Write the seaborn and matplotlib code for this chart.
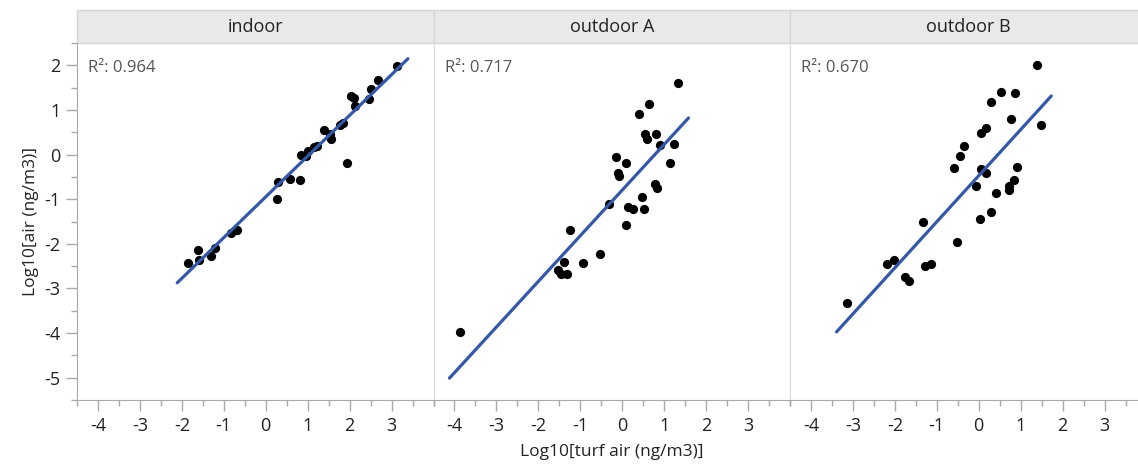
import numpy as np
import pandas as pd
import matplotlib
matplotlib.use("Agg")
import matplotlib.pyplot as plt
import seaborn as sns
from matplotlib.patches import Rectangle
from matplotlib.ticker import FixedLocator, MultipleLocator

# panels
sites = ["indoor", "outdoor A", "outdoor B"]
r2_values = [0.964, 0.717, 0.670]

# indoor
indoor_x = [-1.86, -1.62, -1.58, -1.30, -1.20, -0.82, -0.69, 0.28, 0.30, 0.58,
            0.81, 0.84, 0.95, 1.00, 1.14, 1.22, 1.40, 1.55, 1.54, 1.78,
            1.85, 1.93, 2.04, 2.10, 2.12, 2.46, 2.50, 2.68, 3.14]
indoor_y = [-2.43, -2.13, -2.36, -2.28, -2.10, -1.76, -1.68, -1.00, -0.62, -0.54,
            -0.56, 0.00, -0.04, 0.07, 0.16, 0.20, 0.54, 0.35, 0.46, 0.66,
            0.71, -0.19, 1.31, 1.27, 1.08, 1.25, 1.46, 1.66, 1.99]

# outdoor A
outA_x = [-3.87, -1.52, -1.46, -1.38, -1.31, -1.25, -0.94, -0.54, -0.32, -0.16,
          -0.09, -0.07, 0.08, 0.10, 0.14, 0.25, 0.41, 0.47, 0.52, 0.54,
          0.59, 0.63, 0.78, 0.80, 0.82, 0.90, 1.15, 1.23, 1.33]
outA_y = [-3.97, -2.59, -2.68, -2.41, -2.68, -1.69, -2.44, -2.23, -1.11, -0.05,
          -0.41, -0.47, -1.58, -0.18, -1.17, -1.22, 0.90, -0.96, -1.21, 0.46,
          0.34, 1.13, -0.67, 0.46, -0.75, 0.22, -0.19, 0.24, 1.61]

# outdoor B
outB_x = [-3.14, -2.19, -2.01, -1.76, -1.66, -1.34, -1.29, -1.14, -0.60, -0.53,
          -0.45, -0.35, -0.06, 0.03, 0.05, 0.06, 0.17, 0.17, 0.30, 0.30,
          0.41, 0.54, 0.72, 0.72, 0.77, 0.85, 0.87, 0.91, 1.40, 1.48]
outB_y = [-3.33, -2.46, -2.37, -2.74, -2.83, -1.52, -2.50, -2.46, -0.29, -1.95,
          -0.04, 0.19, -0.71, -1.45, 0.49, -0.33, 0.60, -0.42, 1.17, -1.28,
          -0.87, 1.41, -0.71, -0.79, 0.80, -0.57, 1.39, -0.28, 2.00, 0.66]

x_ticks = [-4, -3, -2, -1, 0, 1, 2, 3]
y_ticks = [-5, -4, -3, -2, -1, 0, 1, 2]

df = pd.concat([
    pd.DataFrame({"site": sites[0], "turf": indoor_x, "air": indoor_y}),
    pd.DataFrame({"site": sites[1], "turf": outA_x, "air": outA_y}),
    pd.DataFrame({"site": sites[2], "turf": outB_x, "air": outB_y}),
], ignore_index=True)

sns.set_style("white")
plt.rcParams["font.family"] = ["Open Sans", "DejaVu Sans"]
plt.rcParams["axes.unicode_minus"] = False

g = sns.FacetGrid(df, col="site", col_order=sites, sharex=True, sharey=True,
                  height=4.0, aspect=0.9)
g.map_dataframe(sns.scatterplot, x="turf", y="air", color="black", s=44,
                linewidth=0)

fig = g.figure
W, H = 1138, 465
fig.set_size_inches(W / 100, H / 100)

# panel boxes in pixels; the last one runs a bit past the right edge
panel_w = 356.5
top_px, bot_px = 43, 400

grey = "#a9a9a9"
head_h = 33 / (bot_px - top_px)

for i, (ax, site) in enumerate(zip(g.axes.flat, sites)):
    left_px = 77 + i * panel_w
    ax.set_position([left_px / W, (H - bot_px) / H, panel_w / W,
                     (bot_px - top_px) / H])

    sub = df[df["site"] == site]
    slope, icpt = np.polyfit(sub["turf"], sub["air"], 1)
    xs = np.array([sub["turf"].min() - 0.25, sub["turf"].max() + 0.25])
    sns.lineplot(x=xs, y=slope * xs + icpt, ax=ax, color="#3557a8",
                 linewidth=2.3)

    ax.set_xlim(-4.5, 4.0)
    ax.set_ylim(-5.5, 2.5)
    ax.xaxis.set_major_locator(FixedLocator(x_ticks))
    ax.xaxis.set_minor_locator(MultipleLocator(0.5))
    ax.yaxis.set_major_locator(FixedLocator(y_ticks))
    ax.yaxis.set_minor_locator(MultipleLocator(0.5))
    ax.tick_params(which="both", direction="out", color=grey, width=1,
                   labelsize=13, labelcolor="#222222", bottom=True, left=True)
    ax.tick_params(which="major", length=8, pad=4)
    ax.tick_params(which="minor", length=4)

    for s in ["top", "right"]:
        ax.spines[s].set_visible(False)
    ax.spines["bottom"].set_color(grey)
    ax.spines["left"].set_color(grey if i == 0 else "#dadada")
    if i > 0:
        ax.tick_params(axis="y", which="both", left=False, labelleft=False)

    ax.set_title("")
    ax.set_xlabel("")
    ax.set_ylabel("")
    ax.add_patch(Rectangle((0, 1), 1, head_h, transform=ax.transAxes,
                           clip_on=False, facecolor="#e9e9e9",
                           edgecolor="#d6d6d6", linewidth=1))
    ax.text(0.5, 1 + head_h / 2, site, transform=ax.transAxes, ha="center",
            va="center", fontsize=13, color="#222222")
    ax.text(0.031, 0.93, f"R\u00b2: {r2_values[i]:.3f}", transform=ax.transAxes,
            ha="left", va="center", fontsize=12, color="#555555")

g.axes.flat[0].set_ylabel("Log10[air (ng/m3)]", fontsize=12.5, color="#222222")
g.axes.flat[1].set_xlabel("Log10[turf air (ng/m3)]", fontsize=12.5,
                          color="#222222", labelpad=7)

fig.savefig("out.png", dpi=100)
